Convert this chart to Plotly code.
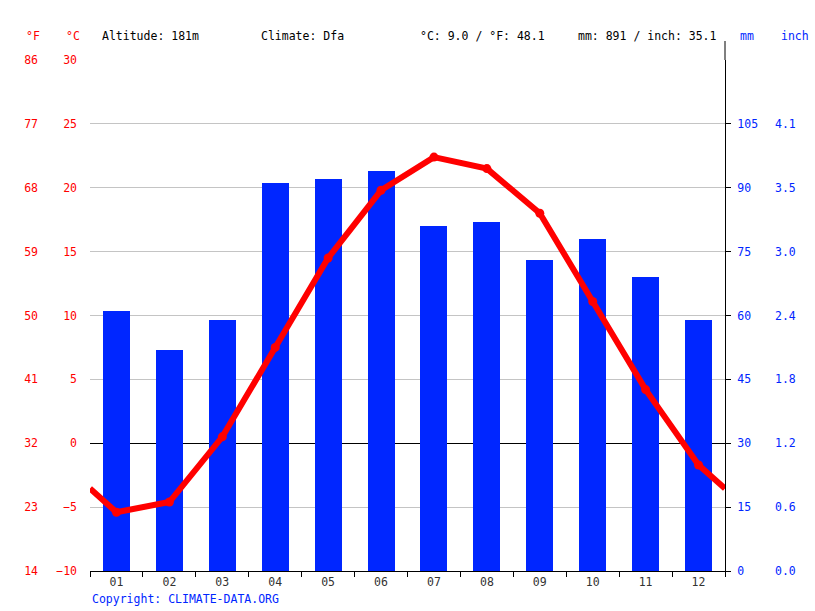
import plotly.graph_objects as go

W, H = 815, 611
months = ["01", "02", "03", "04", "05", "06", "07", "08", "09", "10", "11", "12"]
temp_c = [-5.4, -4.6, 0.5, 7.5, 14.5, 19.8, 22.4, 21.5, 18.0, 11.1, 4.2, -1.7]
precip_mm = [61, 52, 59, 91, 92, 94, 81, 82, 73, 78, 69, 59]

c_ticks = [-10, -5, 0, 5, 10, 15, 20, 25, 30]
f_ticks = [14, 23, 32, 41, 50, 59, 68, 77, 86]
mm_ticks = [0, 15, 30, 45, 60, 75, 90, 105]
inch_labels = ["0.0", "0.6", "1.2", "1.8", "2.4", "3.0", "3.5", "4.1"]

RED = "#ff0000"
BLUE = "#0026ff"
FONT = "DejaVu Sans Mono"

x_idx = list(range(1, 13))
# the line runs to the plot edges, halfway between Dec and Jan
edge = (temp_c[-1] + temp_c[0]) / 2

fig = go.Figure()
fig.add_trace(go.Bar(x=x_idx, y=precip_mm, marker_color=BLUE, width=0.51,
                     marker_line_width=0, yaxis="y", showlegend=False))
fig.add_trace(go.Scatter(x=[0.5] + x_idx + [12.5], y=[edge] + temp_c + [edge],
                         yaxis="y2", mode="lines", line=dict(color=RED, width=6),
                         showlegend=False))
fig.add_trace(go.Scatter(x=x_idx, y=temp_c, yaxis="y2", mode="markers",
                         marker=dict(color=RED, size=9), showlegend=False))

px = lambda v: v / W

fig.update_layout(
    width=W, height=H,
    margin=dict(l=0, r=0, t=60, b=40, autoexpand=False),
    plot_bgcolor="white", paper_bgcolor="white",
    font=dict(family=FONT, size=11.5),
    bargap=0,
    xaxis=dict(domain=[px(90), px(725)], range=[0.5, 12.5],
               tickvals=x_idx, ticktext=months, ticks="",
               tickfont=dict(family=FONT, size=11.5, color="#333333"),
               showline=True, linecolor="black", linewidth=1, showgrid=False,
               zeroline=False,
               minor=dict(tickvals=[i + 0.5 for i in range(13)], ticks="outside",
                          ticklen=5, tickcolor="black")),
    yaxis=dict(side="right", anchor="x", range=[0, 120], tickvals=mm_ticks,
               ticks="outside", ticklen=5, tickcolor="black",
               showline=True, linecolor="black", linewidth=1,
               showgrid=False, zeroline=False, ticklabelstandoff=4,
               tickfont=dict(family=FONT, size=11.5, color=BLUE)),
    yaxis2=dict(overlaying="y", side="left", anchor="x", range=[-10, 30],
                tickvals=c_ticks, ticks="", showgrid=True, gridcolor="#c4c4c4",
                zeroline=True, zerolinecolor="black", zerolinewidth=1,
                showline=False, ticklabelstandoff=12,
                tickfont=dict(family=FONT, size=11.5, color=RED)),
    yaxis3=dict(overlaying="y", side="left", anchor="free", position=px(38),
                range=[14, 86], tickvals=f_ticks, ticks="", showgrid=False,
                zeroline=False, showline=False,
                tickfont=dict(family=FONT, size=11.5, color=RED)),
    yaxis4=dict(overlaying="y", side="right", anchor="free", position=px(774),
                range=[0, 120], tickvals=mm_ticks, ticktext=inch_labels, ticks="",
                showgrid=False, zeroline=False, showline=False,
                tickfont=dict(family=FONT, size=11.5, color=BLUE)),
)

# keep the extra axes alive with invisible traces
fig.add_trace(go.Scatter(x=[1], y=[50], yaxis="y3", mode="markers",
                         marker=dict(opacity=0), showlegend=False, hoverinfo="skip"))
fig.add_trace(go.Scatter(x=[1], y=[10], yaxis="y4", mode="markers",
                         marker=dict(opacity=0), showlegend=False, hoverinfo="skip"))

ty = 1 + 24 / 511
header = [
    ("°F", 24, RED), ("°C", 64, RED),
    ("Altitude: 181m", 100, "black"), ("Climate: Dfa", 259, "black"),
    ("°C: 9.0 / °F: 48.1", 418, "black"), ("mm: 891 / inch: 35.1", 576, "black"),
    ("mm", 738, BLUE), ("inch", 779, BLUE),
]
for text, x0, col in header:
    fig.add_annotation(text=text, x=px(x0), y=ty, xref="paper", yref="paper",
                       xanchor="left", yanchor="middle", showarrow=False,
                       font=dict(family=FONT, size=11.5, color=col))

fig.add_annotation(text="Copyright: CLIMATE-DATA.ORG", x=px(90), y=-28 / 511,
                   xref="paper", yref="paper", xanchor="left", yanchor="middle",
                   showarrow=False, font=dict(family=FONT, size=11.5, color=BLUE))

fig.add_shape(type="line", xref="paper", yref="paper", x0=px(725), x1=px(725),
              y0=1, y1=1 + 19 / 511, line=dict(color="black", width=1))

# drop the page's default body margin so the figure sits at the window corner
fig.write_html("out.html", config={"displayModeBar": False},
               post_script="document.body.style.margin = '0';")
